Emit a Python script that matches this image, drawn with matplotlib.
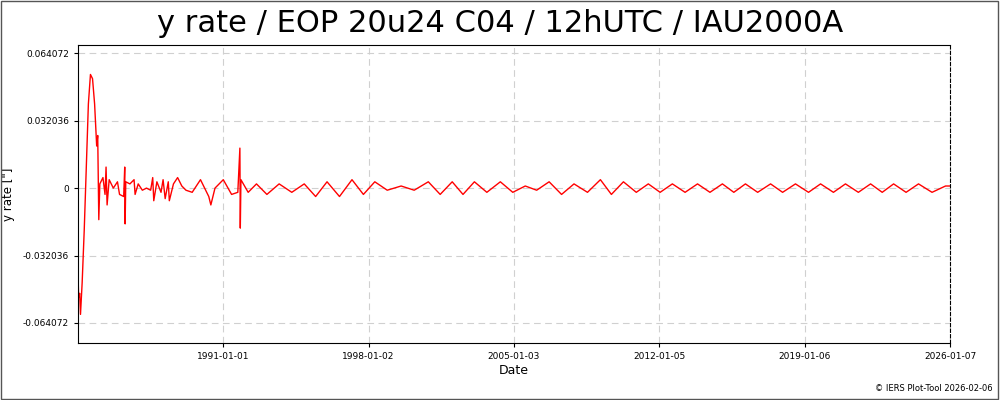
import matplotlib
matplotlib.use("Agg")
import matplotlib.pyplot as plt
import matplotlib.dates as mdates
from datetime import datetime, timedelta

# values (decimal year, arcsec/day)
years = [1984.0, 1984.03, 1984.08, 1984.12, 1984.2, 1984.3, 1984.4, 1984.5, 1984.6, 1984.7,
         1984.8, 1984.9, 1984.95, 1985.0, 1985.05, 1985.2, 1985.3, 1985.35, 1985.4, 1985.5,
         1985.7, 1985.9, 1986.0, 1986.2, 1986.25, 1986.27, 1986.3, 1986.5, 1986.7, 1986.75,
         1986.9, 1987.1, 1987.3, 1987.5, 1987.6, 1987.65, 1987.8, 1988.0, 1988.1, 1988.2,
         1988.35, 1988.4, 1988.6, 1988.8, 1989.0, 1989.2, 1989.5, 1989.9, 1990.3, 1990.4,
         1990.6, 1991.0, 1991.4, 1991.7, 1991.8, 1991.82, 1991.85, 1992.2, 1992.6, 1993.1,
         1993.69, 1994.3, 1994.9, 1995.45, 1996.0, 1996.6, 1997.2, 1997.75, 1998.3, 1998.9,
         1999.57, 2000.2, 2000.88, 2001.45, 2002.03, 2002.55, 2003.1, 2003.7, 2004.35, 2004.95,
         2005.55, 2006.1, 2006.7, 2007.3, 2007.9, 2008.55, 2009.17, 2009.7, 2010.28, 2010.9,
         2011.48, 2012.05, 2012.64, 2013.25, 2013.85, 2014.45, 2015.05, 2015.6, 2016.16, 2016.75,
         2017.37, 2017.95, 2018.57, 2019.2, 2019.78, 2020.4, 2020.98, 2021.6, 2022.19, 2022.75,
         2023.3, 2023.9, 2024.5, 2025.15, 2025.8, 2026.02]
rates = [-0.040, -0.052, -0.050, -0.060, -0.045, -0.020, 0.010, 0.040, 0.054, 0.052,
         0.040, 0.020, 0.025, -0.015, 0.002, 0.005, -0.003, 0.010, -0.008, 0.004,
         0.000, 0.003, -0.003, -0.004, 0.010, -0.017, 0.003, 0.002, 0.004, -0.003,
         0.002, -0.001, 0.000, -0.001, 0.005, -0.006, 0.003, -0.002, 0.004, -0.005,
         0.003, -0.006, 0.002, 0.005, 0.001, -0.001, -0.002, 0.004, -0.004, -0.008,
         0.000, 0.004, -0.003, -0.002, 0.019, -0.019, 0.004, -0.002, 0.002, -0.003,
         0.002, -0.002, 0.002, -0.004, 0.003, -0.004, 0.004, -0.003, 0.003, -0.001,
         0.001, -0.001, 0.003, -0.003, 0.003, -0.003, 0.003, -0.002, 0.003, -0.002,
         0.001, -0.001, 0.003, -0.003, 0.002, -0.002, 0.004, -0.003, 0.003, -0.002,
         0.002, -0.002, 0.002, -0.002, 0.002, -0.002, 0.002, -0.002, 0.002, -0.002,
         0.002, -0.002, 0.002, -0.002, 0.002, -0.002, 0.002, -0.002, 0.002, -0.002,
         0.002, -0.002, 0.002, -0.002, 0.001, 0.001]
tick_dates = ["1991-01-01", "1998-01-02", "2005-01-03", "2012-01-05", "2019-01-06", "2026-01-07"]
ytick_vals = [-0.064072, -0.032036, 0, 0.032036, 0.064072]


def year_to_date(y):
    yr = int(y)
    start = datetime(yr, 1, 1)
    return start + timedelta(days=(y - yr) * 365.25)


dates = [year_to_date(y) for y in years]

fig = plt.figure(figsize=(10, 4), dpi=100)
fig.patches.append(plt.Rectangle((0.001, 0.002), 0.997, 0.995, transform=fig.transFigure,
                                 fill=False, edgecolor="#555555", lw=1))
ax = fig.add_axes([0.078, 0.1425, 0.872, 0.745])
ax.plot(dates, rates, color="red", lw=1.0)

ax.set_xlim(datetime(1984, 1, 1), datetime(2026, 1, 7))
ax.set_ylim(-0.0736, 0.0680)
ax.set_xticks([datetime.strptime(d, "%Y-%m-%d") for d in tick_dates])
ax.xaxis.set_major_formatter(mdates.DateFormatter("%Y-%m-%d"))
ax.set_yticks(ytick_vals)
ax.set_yticklabels(["-0.064072", "-0.032036", "0", "0.032036", "0.064072"])
ax.tick_params(labelsize=6.5, length=3)
ax.grid(True, color="#d0d0d0", ls=(0, (6, 4)), lw=0.8)
ax.spines["right"].set_linestyle((0, (3, 2)))

ax.set_xlabel("Date", fontsize=9, labelpad=2)
ax.set_ylabel('y rate ["]', fontsize=8.5)
ax.yaxis.set_label_coords(-0.072, 0.5)
fig.text(0.5, 0.94, "y rate / EOP 20u24 C04 / 12hUTC / IAU2000A", ha="center", va="center", fontsize=22)
fig.text(0.993, 0.028, "© IERS Plot-Tool 2026-02-06", ha="right", va="center", fontsize=6)

fig.savefig("out.png")
